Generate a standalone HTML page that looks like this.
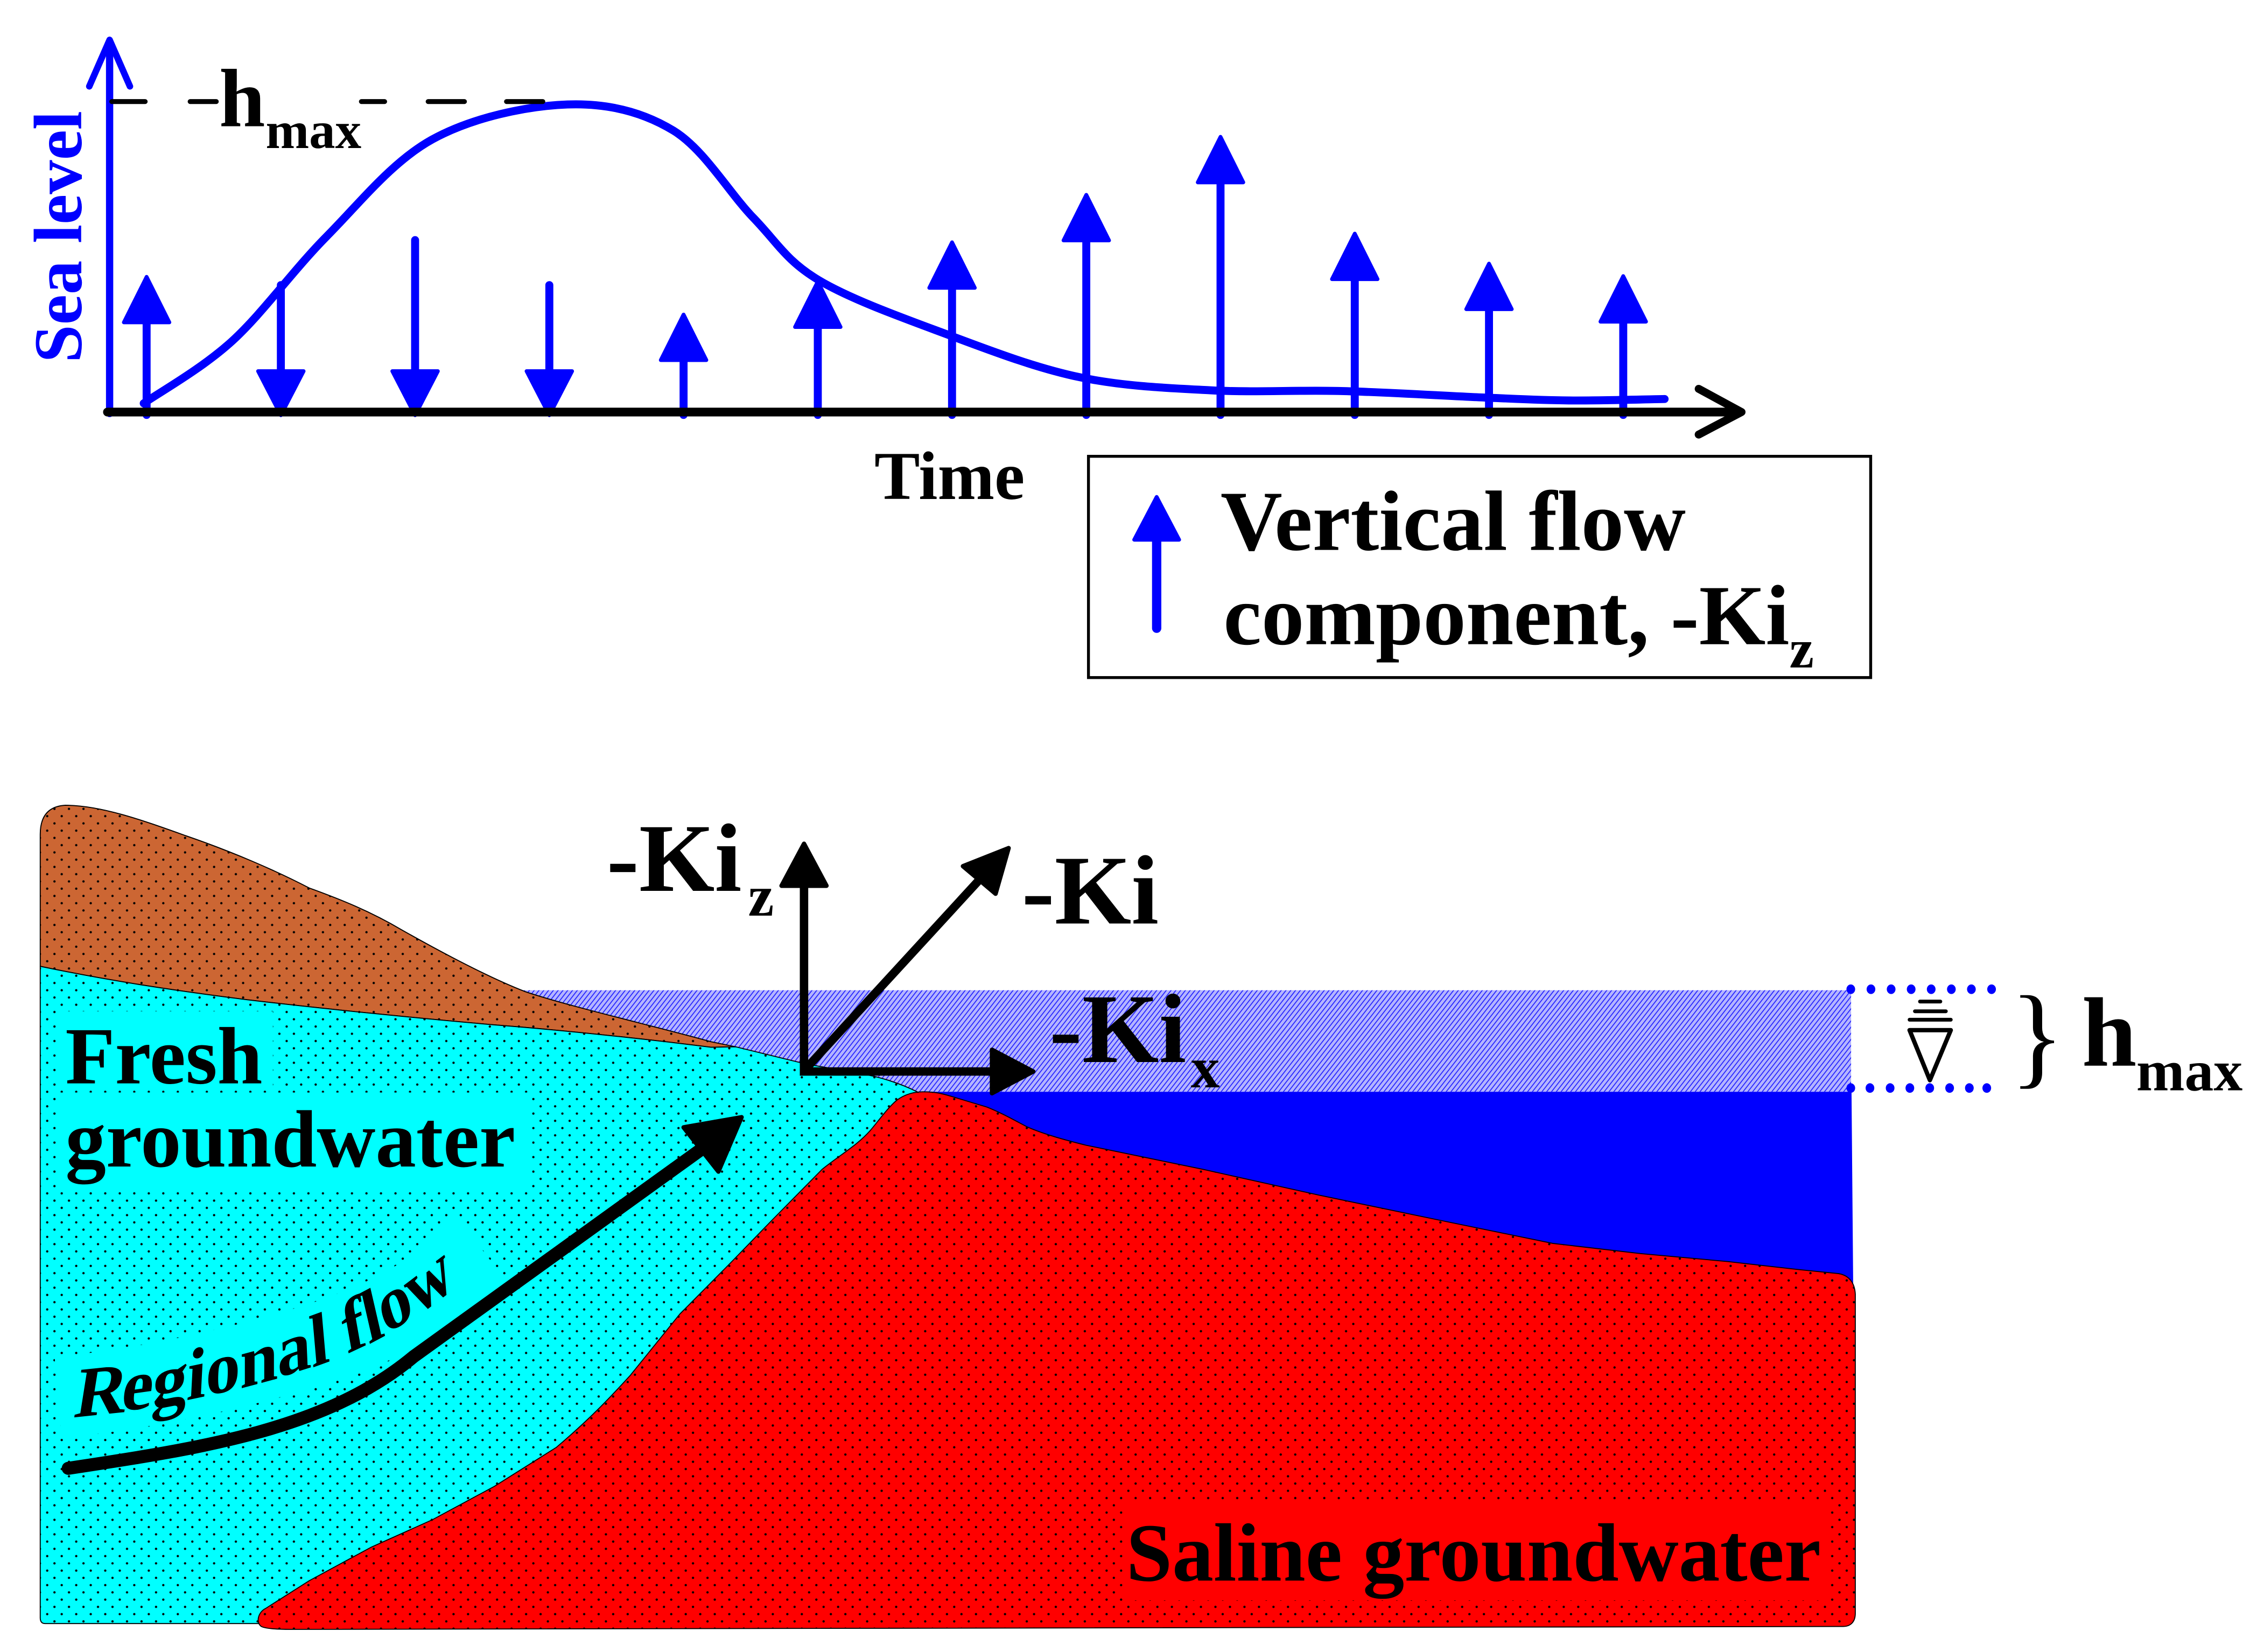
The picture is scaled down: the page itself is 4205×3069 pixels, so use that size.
<!DOCTYPE html>
<html><head><meta charset="utf-8"><style>
html,body{margin:0;padding:0;background:#fff;}
svg{display:block;}
text{font-family:"Liberation Serif","Times New Roman",serif;font-weight:bold;}
</style></head><body>
<svg xmlns="http://www.w3.org/2000/svg" width="4205" height="3069" viewBox="0 0 1560 1138.6">
<defs>
<pattern id="dots" width="10" height="10" patternUnits="userSpaceOnUse">
<circle cx="2.5" cy="2.5" r="0.8" fill="#000"/><circle cx="7.5" cy="7.5" r="0.8" fill="#000"/>
</pattern>
<pattern id="hatch" width="2.6" height="2.6" patternUnits="userSpaceOnUse" patternTransform="rotate(38)">
<rect width="2.6" height="2.6" fill="#b4b4ff"/><line x1="0.5" y1="-1" x2="0.5" y2="4" stroke="#1a1aff" stroke-width="0.6"/>
</pattern>
</defs>
<rect width="1560" height="1138.6" fill="#fff"/>

<!-- ============ TOP CHART ============ -->
<path d="M99,278 C109.2,270.8 139,254.2 160,235 C181,215.8 202,186.2 225,163 C248,139.8 270.3,111.2 298,96 C325.7,80.8 363.3,73 391,72 C418.7,71 442.7,77 464,90 C485.3,103 502.3,132.8 519,150 C535.7,167.2 541.5,179.5 564,193 C586.5,206.5 624,219.8 654,231 C684,242.2 714,253.7 744,260 C774,266.3 804,267.4 834,269 C864,270.6 892.5,268.7 924,269.5 C955.5,270.3 996.8,272.9 1023,274 C1049.2,275.1 1060.3,275.8 1081,276 C1101.7,276.2 1136,275.2 1147,275" fill="none" stroke="#0000ff" stroke-width="5.5" stroke-linecap="round"/>

<g fill="#0000ff" stroke="#0000ff" stroke-linejoin="round">
<g stroke-width="5.5" stroke-linecap="round">
<line x1="101" y1="219" x2="101" y2="286"/>
<line x1="471" y1="245" x2="471" y2="286"/>
<line x1="563.5" y1="222" x2="563.5" y2="286"/>
<line x1="656" y1="195" x2="656" y2="286"/>
<line x1="748.5" y1="163" x2="748.5" y2="286"/>
<line x1="841" y1="123" x2="841" y2="286"/>
<line x1="933.5" y1="190" x2="933.5" y2="286"/>
<line x1="1026" y1="210" x2="1026" y2="286"/>
<line x1="1118.5" y1="219" x2="1118.5" y2="286"/>
<line x1="193.5" y1="196.5" x2="193.5" y2="258"/>
<line x1="286" y1="165.5" x2="286" y2="258"/>
<line x1="378.5" y1="196.5" x2="378.5" y2="258"/>
</g>
<g stroke-width="2.6">
<polygon points="101,190.8 85.3,222.2 116.7,222.2"/>
<polygon points="471,216.8 455.3,248.2 486.7,248.2"/>
<polygon points="563.5,194 547.8,225.4 579.2,225.4"/>
<polygon points="656,167 640.3,198.4 671.7,198.4"/>
<polygon points="748.5,134.3 732.8,165.7 764.2,165.7"/>
<polygon points="841,94.3 825.3,125.7 856.7,125.7"/>
<polygon points="933.5,161 917.8,192.4 949.2,192.4"/>
<polygon points="1026,181.7 1010.3,213.1 1041.7,213.1"/>
<polygon points="1118.5,190.3 1102.8,221.7 1134.2,221.7"/>
<polygon points="177.8,255.8 209.2,255.8 193.5,286.2"/>
<polygon points="270.3,255.8 301.7,255.8 286,286.2"/>
<polygon points="362.8,255.8 394.2,255.8 378.5,286.2"/>
</g>
</g>

<line x1="75.5" y1="285" x2="75.5" y2="29" stroke="#0000ff" stroke-width="5" stroke-linecap="round"/>
<polyline points="61.5,59.5 75.5,27.5 89.5,59.5" fill="none" stroke="#0000ff" stroke-width="4.5" stroke-linecap="round" stroke-linejoin="round"/>

<line x1="74" y1="284" x2="1198" y2="284" stroke="#000" stroke-width="6" stroke-linecap="round"/>
<polyline points="1170.5,268 1200,284 1170.5,299.5" fill="none" stroke="#000" stroke-width="5.5" stroke-linecap="round" stroke-linejoin="round"/>

<g stroke="#000" stroke-width="3.4" stroke-linecap="round">
<line x1="77" y1="70" x2="100" y2="70"/>
<line x1="131" y1="70" x2="149" y2="70"/>
<line x1="249" y1="70" x2="265" y2="70"/>
<line x1="295" y1="70" x2="320" y2="70"/>
<line x1="349" y1="70" x2="374" y2="70"/>
</g>
<text x="151" y="87" font-size="57" fill="#000">h</text>
<text x="183" y="102" font-size="36" fill="#000">max</text>

<text transform="translate(56,250) rotate(-90)" font-size="47" fill="#0000ff">Sea level</text>
<text x="602.5" y="344" font-size="47" fill="#000">Time</text>

<rect x="750" y="314.5" width="539" height="152.5" fill="#fff" stroke="#000" stroke-width="2"/>
<line x1="797" y1="370" x2="797" y2="433" stroke="#0000ff" stroke-width="6.4" stroke-linecap="round"/>
<polygon points="797,342.5 781.5,372 812.5,372" fill="#0000ff" stroke="#0000ff" stroke-width="2.6" stroke-linejoin="round"/>
<text x="841" y="379" font-size="59" fill="#000">Vertical flow</text>
<text x="843" y="444" font-size="59" fill="#000">component, -Ki</text>
<text x="1233" y="460" font-size="38" fill="#000">z</text>

<!-- ============ BOTTOM FIGURE ============ -->
<rect x="358" y="682.5" width="917.5" height="70" fill="url(#hatch)"/>
<path d="M634,752.5 L1275.8,752.5 L1277,892 L700,800 L640,758 Z" fill="#0000ff"/>

<path d="M27.7,666 L27.7,575 Q27.7,556 45,555 C70,555 100,566 128,576 C160,587 190,600 213,612 C235,620 255,628 277,641 C300,654 335,673 362,683.5 C390,693 450,707 490,718 L507,721.5 L490,721.8 C460,718 400,711 341,706.4 C290,702 220,695 170,689 C130,684 80,677 27.7,666 Z" fill="#cc6633" stroke="#000" stroke-width="0.7" stroke-linejoin="round"/>
<path d="M27.7,666 L27.7,575 Q27.7,556 45,555 C70,555 100,566 128,576 C160,587 190,600 213,612 C235,620 255,628 277,641 C300,654 335,673 362,683.5 C390,693 450,707 490,718 L507,721.5 L490,721.8 C460,718 400,711 341,706.4 C290,702 220,695 170,689 C130,684 80,677 27.7,666 Z" fill="url(#dots)"/>

<path d="M27.7,666 C80,677 130,684 170,689 C220,695 290,702 341,706.4 C400,711 460,718 490,721.8 L507,721.5 L554,733 C575,737 590,739 603,742 C615,745 625,749 632,752.5 L640,765 L600,1119 L31,1119 Q27.7,1119 27.7,1115 Z" fill="#00ffff" stroke="#000" stroke-width="0.7" stroke-linejoin="round"/>
<path d="M27.7,666 C80,677 130,684 170,689 C220,695 290,702 341,706.4 C400,711 460,718 490,721.8 L507,721.5 L554,733 C575,737 590,739 603,742 C615,745 625,749 632,752.5 L640,765 L600,1119 L31,1119 Q27.7,1119 27.7,1115 Z" fill="url(#dots)"/>

<path d="M180,1121 C176,1118 178,1111 183,1108.6 L213,1089.5 L255.5,1066.5 L298,1047.4 L340.7,1024.4 L383.3,997.6 C410,975 425,958 434.4,947.8 L468.5,905.6 L502.6,871.2 L532.4,840.5 L566.4,806 C580,795 590,790 599.8,779 C605,773 612,763 618.3,758 C624,754 630,752.5 636,752.5 C645,752.5 650,754 655.4,755.6 L680,763 C690,767 697,771 708,776.8 C720,782 735,786 748.3,789.3 L828.7,805.9 L909.2,823.8 L989.6,840.5 L1070,857 L1130.4,864 L1190.7,869.5 L1239,875 L1267,877.8 C1274,879 1278,884 1278.4,892 L1278.4,1112 C1278.4,1118 1275,1121 1270,1121 L200,1123 C190,1123 183,1122.5 180,1121 Z" fill="#ff0000" stroke="#000" stroke-width="0.7" stroke-linejoin="round"/>
<path d="M180,1121 C176,1118 178,1111 183,1108.6 L213,1089.5 L255.5,1066.5 L298,1047.4 L340.7,1024.4 L383.3,997.6 C410,975 425,958 434.4,947.8 L468.5,905.6 L502.6,871.2 L532.4,840.5 L566.4,806 C580,795 590,790 599.8,779 C605,773 612,763 618.3,758 C624,754 630,752.5 636,752.5 C645,752.5 650,754 655.4,755.6 L680,763 C690,767 697,771 708,776.8 C720,782 735,786 748.3,789.3 L828.7,805.9 L909.2,823.8 L989.6,840.5 L1070,857 L1130.4,864 L1190.7,869.5 L1239,875 L1267,877.8 C1274,879 1278,884 1278.4,892 L1278.4,1112 C1278.4,1118 1275,1121 1270,1121 L200,1123 C190,1123 183,1122.5 180,1121 Z" fill="url(#dots)"/>

<rect x="40" y="697" width="148" height="54" fill="#00ffff"/>
<rect x="40" y="753" width="325" height="66" fill="#00ffff"/>
<path d="M40,963 C110,957 205,934 252,914 S 302,884 332,861" fill="none" stroke="#00ffff" stroke-width="56"/>
<rect x="774" y="1035" width="486" height="68" fill="#ff0000"/>

<path d="M47,1012 C140,998 225,985 285,935 L482,793" fill="none" stroke="#000" stroke-width="9" stroke-linecap="round" stroke-linejoin="round"/>
<polygon points="511,770 471,777 495,807.5" fill="#000" stroke="#000" stroke-width="3" stroke-linejoin="round"/>

<!-- Regional flow (per-glyph along curve, slanted) -->
<g font-size="49" fill="#000">
<text transform="translate(50,977) rotate(-6) skewX(-15)">R</text>
<text transform="translate(82.5,972.9) rotate(-8) skewX(-15)">e</text>
<text transform="translate(104.1,970.2) rotate(-11) skewX(-15)">g</text>
<text transform="translate(128.1,965.2) rotate(-12) skewX(-15)">i</text>
<text transform="translate(141.4,962.4) rotate(-13.5) skewX(-15)">o</text>
<text transform="translate(165.3,957.1) rotate(-15) skewX(-15)">n</text>
<text transform="translate(191.5,949.6) rotate(-17.5) skewX(-15)">a</text>
<text transform="translate(215,942.7) rotate(-20) skewX(-15)">l</text>
<text transform="translate(239,933.3) rotate(-25) skewX(-15)">f</text>
<text transform="translate(254,926.7) rotate(-28) skewX(-15)">l</text>
<text transform="translate(265.7,919.8) rotate(-32) skewX(-15)">o</text>
<text transform="translate(286.8,907.6) rotate(-37) skewX(-15)">w</text>
</g>

<text x="45" y="746.7" font-size="56" fill="#000">Fresh</text>
<text x="45" y="804" font-size="56" fill="#000">groundwater</text>
<text x="776" y="1089.4" font-size="57" fill="#000">Saline groundwater</text>

<path d="M554,610 L554,738.5 L686,738.5" fill="none" stroke="#000" stroke-width="5.8" stroke-linejoin="miter"/>
<line x1="554" y1="738" x2="677" y2="604" stroke="#000" stroke-width="5.8"/>
<g fill="#000" stroke="#000" stroke-width="3" stroke-linejoin="round">
<polygon points="554,581.5 538.5,610.5 569.5,610.5"/>
<polygon points="712,738.5 683.5,723.5 683.5,753.5"/>
<polygon points="695,584.5 663.5,597 686,616"/>
</g>
<text x="418" y="614" font-size="67" fill="#000">-Ki</text>
<text x="515.5" y="631" font-size="40" fill="#000">z</text>
<text x="704" y="636.5" font-size="68" fill="#000">-Ki</text>
<text x="723" y="732" font-size="68" fill="#000">-Ki</text>
<text x="820.5" y="749.4" font-size="40" fill="#000">x</text>

<g fill="#0000ff">
<ellipse cx="1275.3" cy="681.8" rx="3" ry="3.3"/><ellipse cx="1289.2" cy="681.8" rx="3" ry="3.3"/><ellipse cx="1303.1" cy="681.8" rx="3" ry="3.3"/><ellipse cx="1316.9" cy="681.8" rx="3" ry="3.3"/><ellipse cx="1330.7" cy="681.8" rx="3" ry="3.3"/><ellipse cx="1344.6" cy="681.8" rx="3" ry="3.3"/><ellipse cx="1358.4" cy="681.8" rx="3" ry="3.3"/><ellipse cx="1372.3" cy="681.8" rx="3" ry="3.3"/>
<ellipse cx="1275.3" cy="749.9" rx="3" ry="3.3"/><ellipse cx="1288.5" cy="749.9" rx="3" ry="3.3"/><ellipse cx="1302.4" cy="749.9" rx="3" ry="3.3"/><ellipse cx="1316" cy="749.9" rx="3" ry="3.3"/><ellipse cx="1329.7" cy="749.9" rx="3" ry="3.3"/><ellipse cx="1343.4" cy="749.9" rx="3" ry="3.3"/><ellipse cx="1357" cy="749.9" rx="3" ry="3.3"/><ellipse cx="1369" cy="749.9" rx="3" ry="3.3"/>
</g>
<g stroke="#000" stroke-linecap="round" fill="none">
<line x1="1323" y1="690.3" x2="1337" y2="690.3" stroke-width="2.6"/>
<line x1="1319.5" y1="697" x2="1340.8" y2="697" stroke-width="2.6"/>
<line x1="1315.8" y1="702.8" x2="1344.2" y2="702.8" stroke-width="2.6"/>
<polygon points="1315.8,710 1344.2,710 1329.8,744.5" stroke-width="3" stroke-linejoin="round"/>
</g>
<text x="1385" y="740" font-size="78" style="font-weight:normal" fill="#000">}</text>
<text x="1434.5" y="734.5" font-size="68" fill="#000">h</text>
<text x="1472" y="751.5" font-size="40" fill="#000">max</text>
</svg>
</body></html>
